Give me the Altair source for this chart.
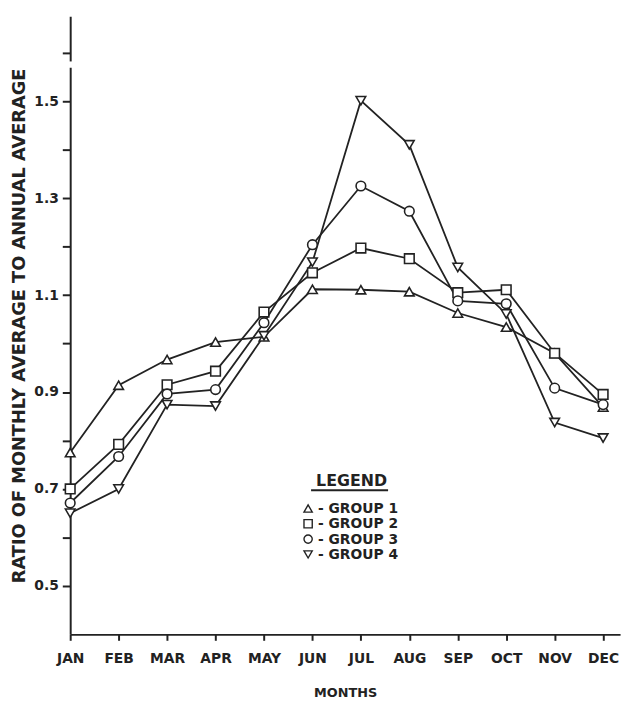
import altair as alt
import pandas as pd

months = ["JAN", "FEB", "MAR", "APR", "MAY", "JUN", "JUL", "AUG", "SEP", "OCT", "NOV", "DEC"]
groups = ["GROUP 1", "GROUP 2", "GROUP 3", "GROUP 4"]
group1 = [0.775, 0.914, 0.967, 1.003, 1.014, 1.112, 1.111, 1.107, 1.063, 1.034, 0.980, 0.869]
group2 = [0.700, 0.792, 0.915, 0.943, 1.065, 1.146, 1.197, 1.175, 1.105, 1.111, 0.980, 0.895]
group3 = [0.671, 0.767, 0.896, 0.905, 1.043, 1.204, 1.325, 1.273, 1.088, 1.082, 0.908, 0.874]
group4 = [0.650, 0.700, 0.874, 0.871, 1.016, 1.168, 1.501, 1.410, 1.157, 1.061, 0.837, 0.805]
y_ticks = [0.5, 0.6, 0.7, 0.8, 0.9, 1.0, 1.1, 1.2, 1.3, 1.4, 1.5, 1.6]
y_labels = ["0.5", "0.7", "0.9", "1.1", "1.3", "1.5"]
shapes = ["triangle-up", "square", "circle", "triangle-down"]
legend_labels = ["- GROUP 1", "- GROUP 2", "- GROUP 3", "- GROUP 4"]

rows = []
for g, vals in zip(groups, [group1, group2, group3, group4]):
    for i, (m, v) in enumerate(zip(months, vals)):
        rows.append({"idx": i, "month": m, "group": g, "ratio": v})
df = pd.DataFrame(rows)

FONT = "DejaVu Sans"
INK = "#222222"

month_expr = "[" + ",".join(f"'{m}'" for m in months) + "][datum.value]"
ylab_expr = ("indexof([" + ",".join(f"'{l}'" for l in y_labels) +
             "], format(datum.value, '.1f')) >= 0 ? format(datum.value, '.1f') : ''")

x_enc = alt.X(
    "idx:Q",
    scale=alt.Scale(domain=[0, 11.35], nice=False, zero=False),
    axis=alt.Axis(
        values=list(range(12)), labelExpr=month_expr, title="MONTHS", grid=False,
        domainColor=INK, domainWidth=2, tickColor=INK, tickWidth=2, tickSize=6,
        labelFont=FONT, labelFontWeight="bold", labelFontSize=14, labelColor=INK,
        labelPadding=11, labelFlush=False,
        titleFont=FONT, titleFontWeight="bold", titleFontSize=13, titleColor=INK,
        titleY=59, titleBaseline="middle",
    ),
)
y_enc = alt.Y(
    "ratio:Q",
    scale=alt.Scale(domain=[0.4, 1.675], nice=False, zero=False),
    axis=alt.Axis(
        values=y_ticks, labelExpr=ylab_expr,
        title="RATIO OF MONTHLY AVERAGE TO ANNUAL AVERAGE", grid=False,
        domainColor=INK, domainWidth=2, tickColor=INK, tickWidth=2, tickSize=8,
        labelFont=FONT, labelFontWeight="bold", labelFontSize=14, labelColor=INK,
        labelPadding=4,
        titleFont=FONT, titleFontWeight="bold", titleFontSize=18, titleColor=INK,
        titleX=-51, titleY=313, titleAngle=270, titleAlign="center", titleBaseline="middle",
    ),
)

shape_scale = alt.Scale(domain=groups, range=shapes)
base = alt.Chart(df)
lines = base.mark_line(color=INK, strokeWidth=1.8).encode(x=x_enc, y=y_enc, detail="group:N")
points = base.mark_point(filled=True, fill="white", stroke=INK, strokeWidth=1.6, size=95, opacity=1).encode(
    x=x_enc, y=y_enc,
    shape=alt.Shape("group:N", scale=shape_scale, legend=None),
)

# hand-drawn legend box (decoration, one datum per element)
one = alt.Data(values=[{"k": 0}])
leg_layers = []
leg_layers.append(alt.Chart(one).mark_text(
    text="LEGEND", font=FONT, fontWeight="bold", fontSize=16, color=INK,
    align="center", baseline="middle"
).encode(x=alt.value(285), y=alt.value(471)))
leg_layers.append(alt.Chart(one).mark_rule(color=INK, strokeWidth=2).encode(
    x=alt.value(244), x2=alt.value(322), y=alt.value(480)
))
row_y = [498.5, 514, 529.5, 545]
for shp, lab, ry in zip(shapes, legend_labels, row_y):
    leg_layers.append(
        alt.Chart(one).mark_point(shape=shp, filled=True, fill="white", stroke=INK,
                                  strokeWidth=1.4, size=70, opacity=1)
        .encode(x=alt.value(241), y=alt.value(ry))
    )
    leg_layers.append(
        alt.Chart(one).mark_text(text=lab, font=FONT, fontWeight="bold", fontSize=14, color=INK,
                                 align="left", baseline="middle")
        .encode(x=alt.value(251), y=alt.value(ry + 0.5))
    )

axis_break = alt.Chart(one).mark_rule(color="white", strokeWidth=6).encode(
    x=alt.datum(0), y=alt.datum(1.569), y2=alt.datum(1.582)
)

chart = alt.layer(lines, points, *leg_layers, axis_break).properties(
    width=557, height=626,
    autosize=alt.AutoSizeParams(type="none"),
    padding={"left": 63, "top": 4, "right": 6, "bottom": 62},
).configure_view(stroke=None)

chart.save("out.html", embed_options={"renderer": "svg", "actions": False})
